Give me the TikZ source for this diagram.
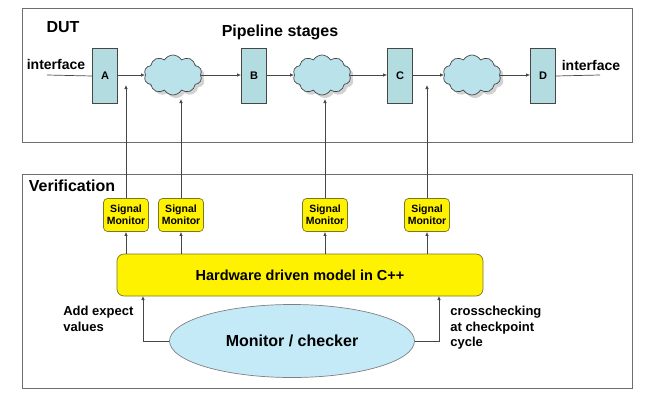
\documentclass[tikz,border=0pt]{standalone}
\usepackage{fontspec}
\setmainfont{Liberation Sans}
\usetikzlibrary{arrows.meta,shapes.symbols,shapes.geometric,shadows}
\definecolor{stagefill}{RGB}{178,220,224}
\definecolor{cloudfill}{RGB}{186,226,234}
\definecolor{checkfill}{RGB}{196,234,248}
\definecolor{linegray}{RGB}{70,70,70}
\definecolor{framegray}{RGB}{110,110,110}
\definecolor{modeledge}{RGB}{120,120,40}
\tikzset{
    stage/.style={draw=linegray, fill=stagefill, minimum width=25pt, minimum height=55pt, inner sep=0pt, font=\fontsize{11}{13}\selectfont\bfseries},
    puff/.style={cloud, cloud puffs=10, cloud puff arc=120, aspect=1.5, draw=linegray, fill=cloudfill, minimum width=58pt, minimum height=40pt, inner sep=0pt, drop shadow={shadow xshift=3pt, shadow yshift=-3pt, fill=gray!70}},
    sigmon/.style={draw=modeledge, fill=yellow, rounded corners=4pt, minimum width=45pt, minimum height=33pt, inner sep=0pt, align=center, font=\fontsize{10.5}{12}\selectfont\bfseries},
    frame/.style={draw=framegray, line width=1pt},
    title/.style={font=\fontsize{16}{18}\selectfont\bfseries},
    note/.style={align=left, inner sep=0pt, font=\fontsize{13}{15.5}\selectfont\bfseries}
}
\begin{document}
\begin{tikzpicture}[x=1pt, y=-1pt, >={Latex[length=4pt,width=3.5pt]}, line width=0.7pt]
    \useasboundingbox (0,0) rectangle (656,402);
    % frames
    \draw[frame] (22,8) rectangle (632,142);
    \draw[frame] (22,174) rectangle (632,388);
    \node[title] (dut) at (63,27) {DUT};
    \node[title] (pipe) at (280,32) {Pipeline stages};
    \node[title] (verif) at (72,186) {Verification};
    % pipeline
    \node[stage] (A) at (105,76) {A};
    \node[puff] (cl1) at (173,75) {};
    \node[stage] (B) at (254,76) {B};
    \node[puff] (cl2) at (322,75) {};
    \node[stage] (C) at (400,76) {C};
    \node[puff] (cl3) at (472,75) {};
    \node[stage] (D) at (543,76) {D};
    \coordinate (inL) at (47,75);
    \coordinate (outR) at (600,75);
    \node[font=\fontsize{14}{16}\selectfont\bfseries] (ifL) at (56,64) {interface};
    \node[font=\fontsize{14}{16}\selectfont\bfseries] (ifR) at (591,65) {interface};
    \draw[linegray] (inL) -- (A.west);
    \draw[linegray] (D.east) -- (outR);
    \draw[->, linegray] (A.east |- cl1.west) -- (cl1.west);
    \draw[->, linegray] (cl1.east) -- (B.west |- cl1.east);
    \draw[->, linegray] (B.east |- cl2.west) -- (cl2.west);
    \draw[->, linegray] (cl2.east) -- (C.west |- cl2.east);
    \draw[->, linegray] (C.east |- cl3.west) -- (cl3.west);
    \draw[->, linegray] (cl3.east) -- (D.west |- cl3.east);
    % monitors
    \node[sigmon] (mon1) at (126,215) {Signal\\Monitor};
    \node[sigmon] (mon2) at (181,215) {Signal\\Monitor};
    \node[sigmon] (mon3) at (325,215) {Signal\\Monitor};
    \node[sigmon] (mon4) at (427,215) {Signal\\Monitor};
    \coordinate (tap1) at (126,85);
    \coordinate (tap2) at (181,99);
    \coordinate (tap3) at (325,99);
    \coordinate (tap4) at (427,85);
    \foreach \i in {1,...,4}
        \draw[->, linegray] (mon\i.north) -- (tap\i);
    \node[draw=modeledge, fill=yellow, rounded corners=7pt, minimum width=366pt, minimum height=42pt, font=\fontsize{14.5}{16}\selectfont\bfseries] (model) at (300,275) {Hardware driven model in C++};
    \foreach \i in {1,...,4}
        \draw[->, linegray] (mon\i.south |- model.north) -- (mon\i.south);
    % checker
    \node[ellipse, draw=gray, fill=checkfill, minimum width=245pt, minimum height=73pt, font=\fontsize{16}{18}\selectfont\bfseries] (check) at (292,341) {Monitor / checker};
    \coordinate (addin) at (143,296);
    \coordinate (crossin) at (439,296);
    \draw[->, linegray] (check.west) -| (addin);
    \draw[->, linegray] (check.east) -| (crossin);
    \node[note, anchor=north west] (addnote) at (63,306) {Add expect\\values};
    \node[note, anchor=north west] (crossnote) at (450,306) {crosschecking\\at checkpoint\\cycle};
\end{tikzpicture}
\end{document}
